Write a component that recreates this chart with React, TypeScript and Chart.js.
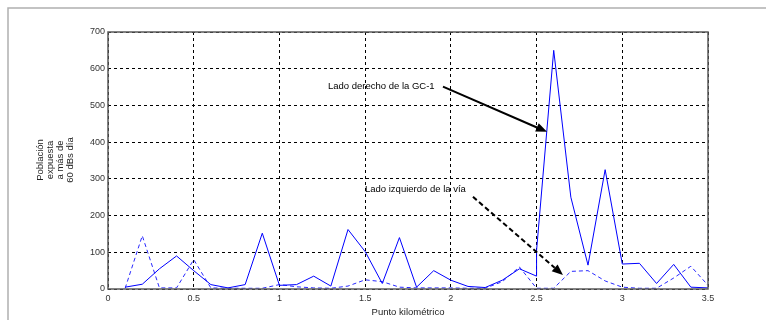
import React, { useEffect, useRef } from "react";
import { Chart, registerables } from "chart.js";

Chart.register(...registerables);

// Kilometre points (km)
const kmPoints: number[] = [
  0.1, 0.2, 0.3, 0.4, 0.5, 0.6, 0.7, 0.8, 0.9, 1.0,
  1.1, 1.2, 1.3, 1.4, 1.5, 1.6, 1.7, 1.8, 1.9, 2.0,
  2.1, 2.2, 2.3, 2.4, 2.5, 2.5, 2.6, 2.7, 2.8, 2.9, 3.0,
  3.1, 3.2, 3.3, 3.4, 3.5,
];

// Right side of the GC-1 (solid)
const rightSide: number[] = [
  5, 13, 55, 90, 50, 12, 3, 12, 152, 10,
  12, 35, 8, 162, 102, 15, 140, 5, 50, 24,
  7, 4, 24, 55, 35, 105, 650, 250, 65, 325, 68,
  70, 15, 67, 5, 3,
];

// Left side of the road (dashed)
const leftSide: number[] = [
  2, 145, 3, 3, 80, 3, 2, 2, 2, 12,
  6, 3, 2, 8, 25, 20, 5, 3, 3, 3,
  2, 2, 20, 60, 2, 2, 2, 48, 50, 22, 5,
  2, 2, 30, 62, 10,
];

const xTicks: number[] = [0, 0.5, 1, 1.5, 2, 2.5, 3, 3.5];
const yTicks: number[] = [0, 100, 200, 300, 400, 500, 600, 700];

const yTitleLines: string[] = ["Población", "expuesta", "a más de", "60 dBs día"];
const xTitle = "Punto kilométrico";

const annotRight = { text: "Lado derecho de la GC-1", tx: 1.283, ty: 551, x1: 1.954, y1: 551, x2: 2.561, y2: 428 };
const annotLeft = { text: "Lado izquierdo de la vía", tx: 1.499, ty: 270, x1: 2.129, y1: 251, x2: 2.654, y2: 38 };

const FONT = "'Liberation Sans', Arial, sans-serif";

function drawArrow(ctx: CanvasRenderingContext2D, x1: number, y1: number, x2: number, y2: number, dashed: boolean) {
  const ang = Math.atan2(y2 - y1, x2 - x1);
  const headLen = 11;
  const headW = 4.5;
  const bx = x2 - headLen * Math.cos(ang);
  const by = y2 - headLen * Math.sin(ang);
  ctx.save();
  ctx.strokeStyle = "#000";
  ctx.fillStyle = "#000";
  ctx.lineWidth = 2;
  ctx.setLineDash(dashed ? [5, 3] : []);
  ctx.beginPath();
  ctx.moveTo(x1, y1);
  ctx.lineTo(bx, by);
  ctx.stroke();
  ctx.setLineDash([]);
  ctx.beginPath();
  ctx.moveTo(x2, y2);
  ctx.lineTo(bx + headW * Math.sin(ang), by - headW * Math.cos(ang));
  ctx.lineTo(bx - headW * Math.sin(ang), by + headW * Math.cos(ang));
  ctx.closePath();
  ctx.fill();
  ctx.restore();
}

const decorPlugin = {
  id: "decor",
  beforeDraw(chart: any) {
    const ctx: CanvasRenderingContext2D = chart.ctx;
    ctx.save();
    ctx.fillStyle = "#fff";
    ctx.fillRect(0, 0, chart.width, chart.height);
    ctx.strokeStyle = "#b0b0b0";
    ctx.lineWidth = 1.5;
    ctx.beginPath();
    ctx.moveTo(8, chart.height);
    ctx.lineTo(8, 8);
    ctx.lineTo(chart.width, 8);
    ctx.stroke();
    ctx.restore();
  },
  afterDraw(chart: any) {
    const ctx: CanvasRenderingContext2D = chart.ctx;
    const { left, top, right, bottom } = chart.chartArea;
    const xs = chart.scales.x;
    const ys = chart.scales.y;
    ctx.save();
    // axes box
    ctx.strokeStyle = "#5a5a5a";
    ctx.lineWidth = 1.5;
    ctx.strokeRect(left, top, right - left, bottom - top);

    // y title (rotated, 4 lines)
    ctx.fillStyle = "#222";
    ctx.font = `9.5px ${FONT}`;
    ctx.textAlign = "center";
    ctx.textBaseline = "middle";
    const cy = 160;
    const xsLines = [40.5, 50, 60.5, 70.5];
    yTitleLines.forEach((line, i) => {
      ctx.save();
      ctx.translate(xsLines[i], cy);
      ctx.rotate(-Math.PI / 2);
      ctx.fillText(line, 0, 0);
      ctx.restore();
    });

    // x title
    ctx.fillText(xTitle, (left + right) / 2, 312);

    // annotations
    ctx.textAlign = "left";
    ctx.font = `9.5px ${FONT}`;
    ctx.fillStyle = "#000";
    ctx.fillText(annotRight.text, xs.getPixelForValue(annotRight.tx), ys.getPixelForValue(annotRight.ty));
    ctx.fillText(annotLeft.text, xs.getPixelForValue(annotLeft.tx), ys.getPixelForValue(annotLeft.ty));
    drawArrow(ctx, xs.getPixelForValue(annotRight.x1), ys.getPixelForValue(annotRight.y1),
      xs.getPixelForValue(annotRight.x2), ys.getPixelForValue(annotRight.y2), false);
    drawArrow(ctx, xs.getPixelForValue(annotLeft.x1), ys.getPixelForValue(annotLeft.y1),
      xs.getPixelForValue(annotLeft.x2), ys.getPixelForValue(annotLeft.y2), true);
    ctx.restore();
  },
};

export default function App() {
  const ref = useRef<HTMLCanvasElement | null>(null);
  useEffect(() => {
    if (!ref.current) return;
    const chart = new Chart(ref.current, {
      type: "line",
      data: {
        datasets: [
          {
            label: "Lado derecho de la GC-1",
            data: kmPoints.map((x, i) => ({ x, y: rightSide[i] })),
            borderColor: "rgb(0,0,255)",
            borderWidth: 1,
            pointRadius: 0,
            tension: 0,
            fill: false,
          },
          {
            label: "Lado izquierdo de la vía",
            data: kmPoints.map((x, i) => ({ x, y: leftSide[i] })),
            borderColor: "rgb(40,40,255)",
            borderWidth: 1,
            borderDash: [4, 3],
            pointRadius: 0,
            tension: 0,
            fill: false,
          },
        ],
      },
      options: {
        animation: false,
        responsive: false,
        devicePixelRatio: 1,
        layout: { padding: { left: 0, top: 32, right: 58, bottom: 0 } },
        plugins: { legend: { display: false }, tooltip: { enabled: false } },
        scales: {
          x: {
            type: "linear",
            min: 0,
            max: 3.5,
            afterBuildTicks: (s: any) => { s.ticks = xTicks.map((v) => ({ value: v })); },
            afterFit: (s: any) => { s.height = 31; },
            ticks: {
              color: "#333",
              font: { family: FONT, size: 9 },
              padding: 4,
              maxRotation: 0,
              callback: (v: any) => String(v),
            },
            grid: { color: "#000", lineWidth: 1, drawTicks: false },
            border: { display: false, dash: [3, 3] },
          },
          y: {
            type: "linear",
            min: 0,
            max: 700,
            afterBuildTicks: (s: any) => { s.ticks = yTicks.map((v) => ({ value: v })); },
            afterFit: (s: any) => { s.width = 108; },
            ticks: {
              color: "#333",
              font: { family: FONT, size: 9 },
              padding: 3,
              callback: (v: any) => String(v),
            },
            grid: { color: "#000", lineWidth: 1, drawTicks: false },
            border: { display: false, dash: [3, 3] },
          },
        },
      },
      plugins: [decorPlugin],
    });
    return () => chart.destroy();
  }, []);
  return (
    <div style={{ position: "absolute", left: 0, top: 0, width: 766, height: 320, background: "#fff" }}>
      <canvas ref={ref} width={766} height={320} style={{ display: "block" }} />
    </div>
  );
}
